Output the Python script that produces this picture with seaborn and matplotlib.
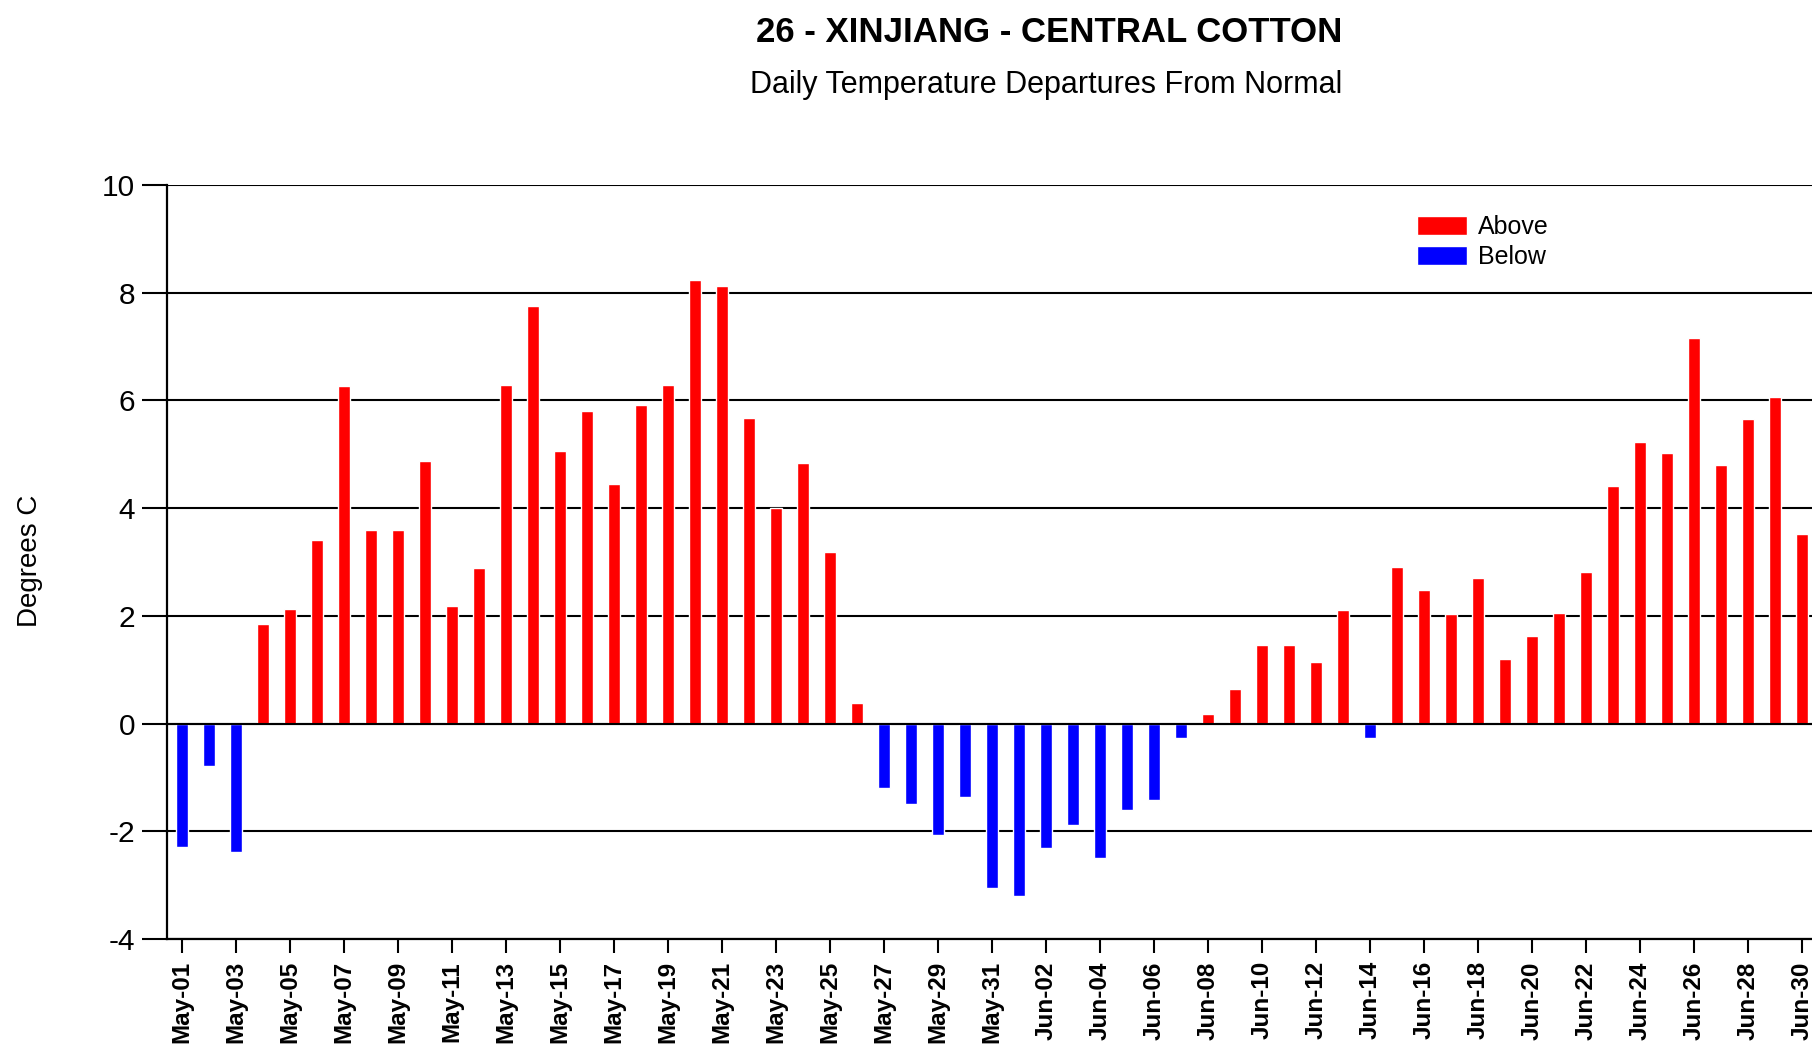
import numpy as np
import pandas as pd
import matplotlib
matplotlib.use("Agg")
import matplotlib.pyplot as plt
import seaborn as sns

# ---------------- data ----------------
dates = list(pd.date_range("2024-05-01", "2024-06-30").strftime("%b-%d"))
may_values = [-2.29, -0.78, -2.38, 1.85, 2.13, 3.41, 6.26, 3.60, 3.60, 4.88,
              2.18, 2.89, 6.29, 7.76, 5.07, 5.81, 4.45, 5.92, 6.29, 8.23,
              8.13, 5.67, 4.00, 4.83, 3.18, 0.39, -1.20, -1.50, -2.07, -1.36,
              -3.05]
jun_values = [-3.20, -2.31, -1.88, -2.50, -1.60, -1.41, -0.27, 0.17, 0.64, 1.45,
              1.45, 1.15, 2.10, -0.27, 2.90, 2.48, 2.04, 2.71, 1.19, 1.63,
              2.05, 2.81, 4.42, 5.22, 5.03, 7.16, 4.80, 5.65, 6.07, 3.52]
values = may_values + jun_values
series_names = ["Above", "Below"]
series_colors = ["#ff0000", "#0000ff"]
y_ticks = [-4, -2, 0, 2, 4, 6, 8, 10]
title = "26 - XINJIANG - CENTRAL COTTON"
subtitle = "Daily Temperature Departures From Normal"
y_label = "Degrees C"

df = pd.DataFrame({
    "date": dates,
    "value": values,
    "sign": [series_names[0] if v >= 0 else series_names[1] for v in values],
})

# ---------------- style ----------------
sns.set_theme(style="white")
plt.rcParams["font.family"] = ["Liberation Sans", "DejaVu Sans"]
plt.rcParams["text.color"] = "black"
plt.rcParams["xtick.color"] = "black"
plt.rcParams["ytick.color"] = "black"
plt.rcParams["axes.labelcolor"] = "black"

W, H = 1812, 1051
fig = plt.figure(figsize=(W / 100, H / 100), dpi=100)
ax = fig.add_axes([167 / W, 1 - 939 / H, (W - 167) / W, (939 - 185) / H])

sns.barplot(data=df, x="date", y="value", hue="sign", hue_order=series_names,
            palette=dict(zip(series_names, series_colors)), dodge=False,
            width=0.42, saturation=1, ax=ax, order=dates, legend=True)

ax.set_axisbelow(True)
ax.set_ylim(-4, 10)
ax.set_xlim(-0.556, 60.37)
ax.set_yticks(y_ticks)
ax.set_yticklabels([str(t) for t in y_ticks], fontsize=21.5)
ax.yaxis.grid(True, color="black", linewidth=1.5)
ax.xaxis.grid(False)
ax.axhline(0, color="black", linewidth=1.5, zorder=3)
ax.tick_params(axis="y", direction="out", length=18, width=1.5, color="black",
               pad=5, left=True)
xt = list(range(0, len(dates), 2))
ax.set_xticks(xt)
ax.set_xticklabels([dates[i] for i in xt], rotation=90, fontsize=17.5,
                   fontweight="bold", va="top", ha="center")
ax.tick_params(axis="x", direction="out", length=10, width=1.5, color="black",
               pad=6, bottom=True)

for s in ["top", "right"]:
    ax.spines[s].set_visible(False)
for s in ["left", "bottom"]:
    ax.spines[s].set_color("black")
    ax.spines[s].set_linewidth(1.6)

ax.set_xlabel("")
ax.set_ylabel("")
fig.text(30 / W, 1 - 561 / H, y_label, rotation=90, fontsize=20,
         ha="center", va="center")

handles, labels = ax.get_legend_handles_labels()
ax.legend(handles, labels, loc="upper left",
          bbox_to_anchor=(1417 / W, 1 - 215 / H), bbox_transform=fig.transFigure,
          frameon=False, fontsize=18, handlelength=2.0, handleheight=0.8,
          handletextpad=0.45, labelspacing=0.25, borderpad=0, borderaxespad=0)

fig.text(1049 / W, 1 - 32 / H, title, fontsize=25, fontweight="bold",
         ha="center", va="center")
fig.text(1046 / W, 1 - 85 / H, subtitle, fontsize=22, ha="center", va="center")

fig.savefig("out.png", dpi=100, facecolor="white")
